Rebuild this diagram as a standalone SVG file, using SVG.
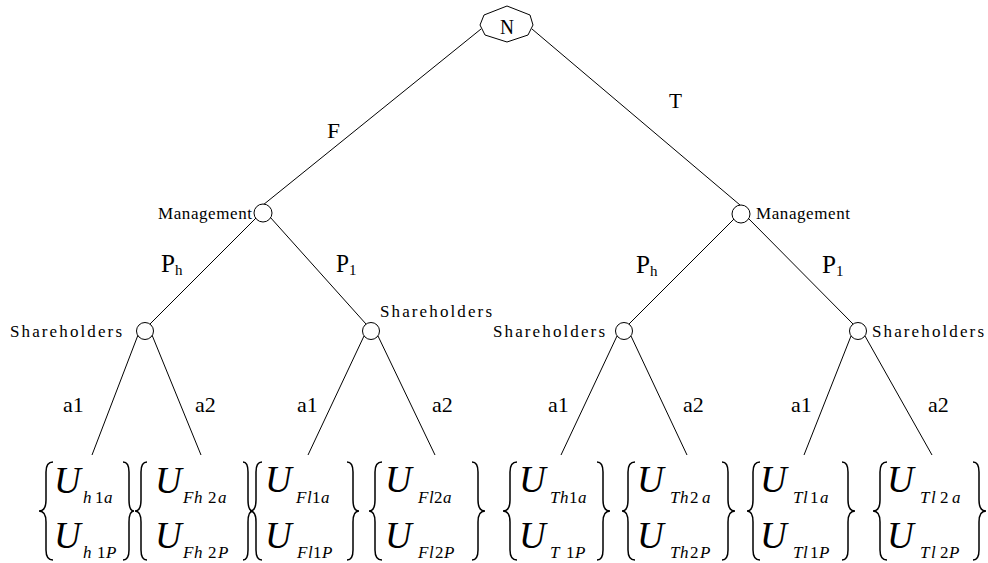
<svg xmlns="http://www.w3.org/2000/svg" width="988" height="563" viewBox="0 0 988 563">
<style>
.ln{stroke:#000;stroke-width:1;fill:none}
.nd{fill:#fff;stroke:#000;stroke-width:1}
.br{fill:none;stroke:#000;stroke-width:1.5}
.lb{font-family:"Liberation Serif",serif;font-size:22px;fill:#000}
.pl{font-family:"Liberation Serif",serif;font-size:25px;fill:#000}
.ps{font-family:"Liberation Serif",serif;font-size:15px;fill:#000}
.mono{font-family:"Liberation Serif",serif;font-size:17px;fill:#000}
.U{font-family:"Liberation Serif",serif;font-style:italic;font-size:37px;fill:#000}
.s{font-family:"Liberation Serif",serif;font-size:17px;fill:#000}
.i{font-style:italic}
</style>
<rect width="988" height="563" fill="#fff"/>
<g id="connectors">
<line class="ln" x1="481" y1="29" x2="263" y2="205"/>
<line class="ln" x1="532" y1="29" x2="740" y2="205"/>
<line class="ln" x1="256" y1="218" x2="150" y2="324"/>
<line class="ln" x1="270" y1="217" x2="366" y2="324"/>
<line class="ln" x1="735" y1="218" x2="629" y2="324"/>
<line class="ln" x1="748" y1="218" x2="853" y2="324"/>
<line class="ln" x1="138" y1="335" x2="92" y2="455"/>
<line class="ln" x1="152" y1="335" x2="201" y2="455"/>
<line class="ln" x1="364" y1="336" x2="308" y2="455"/>
<line class="ln" x1="378" y1="336" x2="435" y2="455"/>
<line class="ln" x1="617" y1="336" x2="561" y2="455"/>
<line class="ln" x1="631" y1="336" x2="687" y2="455"/>
<line class="ln" x1="851" y1="336" x2="804" y2="455"/>
<line class="ln" x1="865" y1="336" x2="932" y2="455"/>
</g>
<g id="edge-labels">
<text class="lb" x="327" y="138" textLength="13" lengthAdjust="spacingAndGlyphs">F</text>
<text class="lb" x="669" y="108" textLength="13" lengthAdjust="spacingAndGlyphs">T</text>
<text class="pl" x="161" y="272" textLength="14" lengthAdjust="spacingAndGlyphs">P</text><text class="ps" x="175" y="275">h</text>
<text class="pl" x="336" y="272" textLength="13" lengthAdjust="spacingAndGlyphs">P</text><text class="ps" x="349" y="275">1</text>
<text class="pl" x="636" y="273" textLength="14" lengthAdjust="spacingAndGlyphs">P</text><text class="ps" x="650" y="276">h</text>
<text class="pl" x="822" y="273" textLength="14" lengthAdjust="spacingAndGlyphs">P</text><text class="ps" x="836" y="276">1</text>
<text class="lb" x="63" y="412">a1</text>
<text class="lb" x="195" y="412">a2</text>
<text class="lb" x="297" y="412">a1</text>
<text class="lb" x="432" y="412">a2</text>
<text class="lb" x="548" y="412">a1</text>
<text class="lb" x="683" y="412">a2</text>
<text class="lb" x="791" y="412">a1</text>
<text class="lb" x="928" y="412">a2</text>
</g>
<g id="node-N">
<polygon class="nd" points="480,25 484,15 507,6 530,15 533,25 528,35 507,42 485,35"/>
<text class="lb" x="500" y="34" font-size="28" textLength="14" lengthAdjust="spacingAndGlyphs">N</text>
</g>
<g id="node-management-F">
<circle class="nd" cx="263" cy="213" r="9"/>
<text class="mono" x="158" y="219" textLength="94" lengthAdjust="spacing">Management</text>
</g>
<g id="node-management-T">
<circle class="nd" cx="741" cy="214" r="9"/>
<text class="mono" x="756" y="219" textLength="94" lengthAdjust="spacing">Management</text>
</g>
<g id="node-shareholders-Fh">
<circle class="nd" cx="145" cy="331" r="8.5"/>
<text class="mono" x="10" y="337" textLength="112" lengthAdjust="spacing">Shareholders</text>
</g>
<g id="node-shareholders-Fl">
<circle class="nd" cx="371" cy="331" r="8.5"/>
<text class="mono" x="380" y="317" textLength="112" lengthAdjust="spacing">Shareholders</text>
</g>
<g id="node-shareholders-Th">
<circle class="nd" cx="624" cy="331" r="8.5"/>
<text class="mono" x="493" y="337" textLength="112" lengthAdjust="spacing">Shareholders</text>
</g>
<g id="node-shareholders-Tl">
<circle class="nd" cx="858" cy="331" r="8.5"/>
<text class="mono" x="872" y="337" textLength="112" lengthAdjust="spacing">Shareholders</text>
</g>
<g id="leaf-1">
<path class="br" d="M53,462 Q46,462 46,472 L46,500 Q46,511 39,511 Q46,511 46,522 L46,550 Q46,560 53,560"/>
<path class="br" d="M123,462 Q129,462 129,472 L129,500 Q129,511 134,511 Q129,511 129,522 L129,550 Q129,560 123,560"/>
<text class="U" x="54" y="493">U</text><text class="s"><tspan class="i" x="83" y="503">h</tspan><tspan x="95" y="503">1</tspan><tspan class="i" x="104" y="503">a</tspan></text>
<text class="U" x="54" y="548">U</text><text class="s"><tspan class="i" x="83" y="558">h</tspan><tspan x="97" y="558">1</tspan><tspan class="i" x="106" y="558">P</tspan></text>
</g>
<g id="leaf-2">
<path class="br" d="M147,462 Q141,462 141,472 L141,500 Q141,511 135,511 Q141,511 141,522 L141,550 Q141,560 147,560"/>
<path class="br" d="M243,462 Q248,462 248,472 L248,500 Q248,511 253,511 Q248,511 248,522 L248,550 Q248,560 243,560"/>
<text class="U" x="155" y="493">U</text><text class="s"><tspan class="i" x="183" y="503">F</tspan><tspan class="i" x="194" y="503">h</tspan><tspan x="208" y="503">2</tspan><tspan class="i" x="218" y="503">a</tspan></text>
<text class="U" x="155" y="548">U</text><text class="s"><tspan class="i" x="183" y="558">F</tspan><tspan class="i" x="194" y="558">h</tspan><tspan x="208" y="558">2</tspan><tspan class="i" x="218" y="558">P</tspan></text>
</g>
<g id="leaf-3">
<path class="br" d="M262,462 Q256,462 256,472 L256,500 Q256,511 250,511 Q256,511 256,522 L256,550 Q256,560 262,560"/>
<path class="br" d="M347,462 Q353,462 353,472 L353,500 Q353,511 359,511 Q353,511 353,522 L353,550 Q353,560 347,560"/>
<text class="U" x="265" y="492">U</text><text class="s"><tspan class="i" x="296" y="503">F</tspan><tspan class="i" x="307" y="503">l</tspan><tspan x="312" y="503">1</tspan><tspan class="i" x="321" y="503">a</tspan></text>
<text class="U" x="265" y="548">U</text><text class="s"><tspan class="i" x="297" y="558">F</tspan><tspan class="i" x="308" y="558">l</tspan><tspan x="313" y="558">1</tspan><tspan class="i" x="322" y="558">P</tspan></text>
</g>
<g id="leaf-4">
<path class="br" d="M382,462 Q375,462 375,472 L375,500 Q375,511 369,511 Q375,511 375,522 L375,550 Q375,560 382,560"/>
<path class="br" d="M472,462 Q478,462 478,472 L478,500 Q478,511 485,511 Q478,511 478,522 L478,550 Q478,560 472,560"/>
<text class="U" x="385" y="492">U</text><text class="s"><tspan class="i" x="418" y="503">F</tspan><tspan class="i" x="429" y="503">l</tspan><tspan x="434" y="503">2</tspan><tspan class="i" x="443" y="503">a</tspan></text>
<text class="U" x="385" y="548">U</text><text class="s"><tspan class="i" x="418" y="558">F</tspan><tspan class="i" x="429" y="558">l</tspan><tspan x="435" y="558">2</tspan><tspan class="i" x="444" y="558">P</tspan></text>
</g>
<g id="leaf-5">
<path class="br" d="M517,462 Q510,462 510,472 L510,500 Q510,511 503,511 Q510,511 510,522 L510,550 Q510,560 517,560"/>
<path class="br" d="M597,462 Q603,462 603,472 L603,500 Q603,511 610,511 Q603,511 603,522 L603,550 Q603,560 597,560"/>
<text class="U" x="519" y="492">U</text><text class="s"><tspan class="i" x="550" y="503">T</tspan><tspan class="i" x="560" y="503">h</tspan><tspan x="569" y="503">1</tspan><tspan class="i" x="578" y="503">a</tspan></text>
<text class="U" x="519" y="548">U</text><text class="s"><tspan class="i" x="550" y="558">T</tspan><tspan x="566" y="558">1</tspan><tspan class="i" x="575" y="558">P</tspan></text>
</g>
<g id="leaf-6">
<path class="br" d="M635,462 Q628,462 628,472 L628,500 Q628,511 622,511 Q628,511 628,522 L628,550 Q628,560 635,560"/>
<path class="br" d="M722,462 Q728,462 728,472 L728,500 Q728,511 735,511 Q728,511 728,522 L728,550 Q728,560 722,560"/>
<text class="U" x="637" y="492">U</text><text class="s"><tspan class="i" x="670" y="503">T</tspan><tspan class="i" x="680" y="503">h</tspan><tspan x="690" y="503">2</tspan><tspan class="i" x="702" y="503">a</tspan></text>
<text class="U" x="637" y="548">U</text><text class="s"><tspan class="i" x="670" y="558">T</tspan><tspan class="i" x="680" y="558">h</tspan><tspan x="690" y="558">2</tspan><tspan class="i" x="700" y="558">P</tspan></text>
</g>
<g id="leaf-7">
<path class="br" d="M760,462 Q753,462 753,472 L753,500 Q753,511 747,511 Q753,511 753,522 L753,550 Q753,560 760,560"/>
<path class="br" d="M842,462 Q848,462 848,472 L848,500 Q848,511 855,511 Q848,511 848,522 L848,550 Q848,560 842,560"/>
<text class="U" x="760" y="492">U</text><text class="s"><tspan class="i" x="793" y="503">T</tspan><tspan class="i" x="803" y="503">l</tspan><tspan x="810" y="503">1</tspan><tspan class="i" x="820" y="503">a</tspan></text>
<text class="U" x="760" y="548">U</text><text class="s"><tspan class="i" x="793" y="558">T</tspan><tspan class="i" x="803" y="558">l</tspan><tspan x="810" y="558">1</tspan><tspan class="i" x="819" y="558">P</tspan></text>
</g>
<g id="leaf-8">
<path class="br" d="M887,462 Q880,462 880,472 L880,500 Q880,511 873,511 Q880,511 880,522 L880,550 Q880,560 887,560"/>
<path class="br" d="M973,462 Q979,462 979,472 L979,500 Q979,511 986,511 Q979,511 979,522 L979,550 Q979,560 973,560"/>
<text class="U" x="887" y="492">U</text><text class="s"><tspan class="i" x="920" y="503">T</tspan><tspan class="i" x="931" y="503">l</tspan><tspan x="940" y="503">2</tspan><tspan class="i" x="952" y="503">a</tspan></text>
<text class="U" x="887" y="548">U</text><text class="s"><tspan class="i" x="920" y="558">T</tspan><tspan class="i" x="931" y="558">l</tspan><tspan x="940" y="558">2</tspan><tspan class="i" x="949" y="558">P</tspan></text>
</g>
</svg>
